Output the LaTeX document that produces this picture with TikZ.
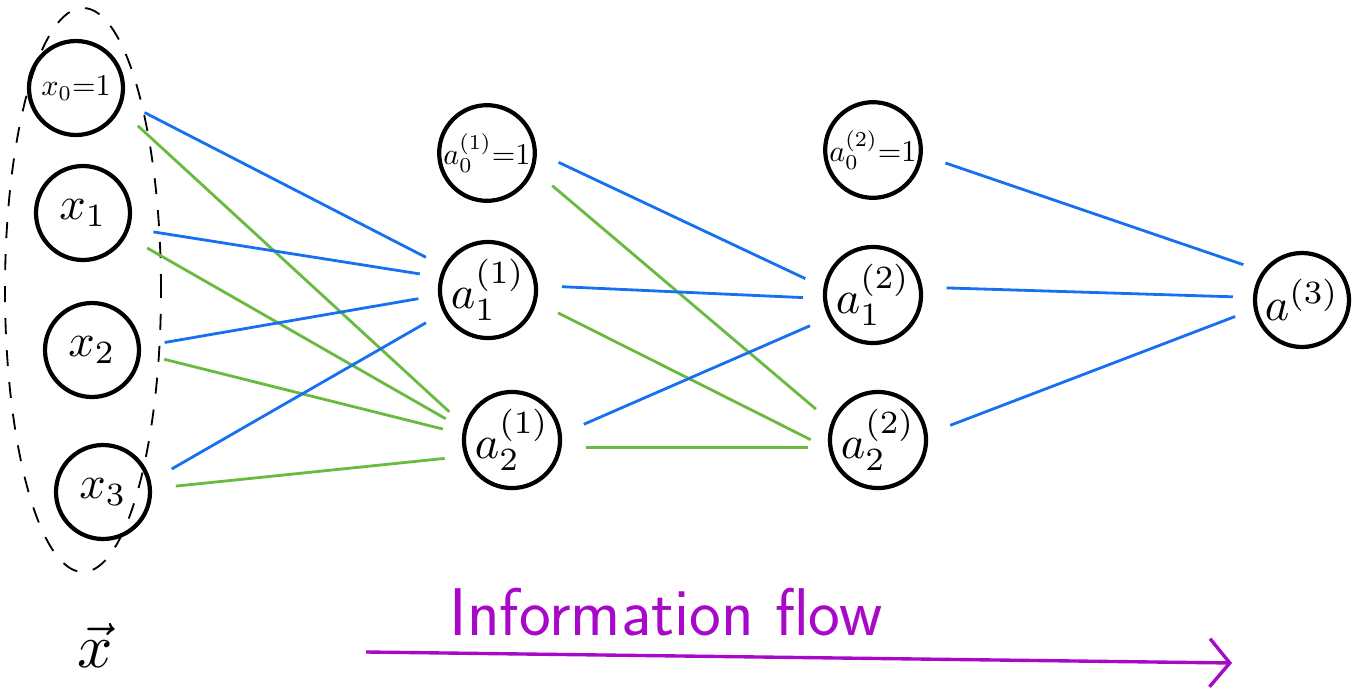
\documentclass[tikz,border=0pt]{standalone}
\usepackage{amsmath}
\usepackage{graphicx}
\usepackage{xcolor}
\usetikzlibrary{arrows.meta}

\definecolor{wblue}{RGB}{22,112,240}
\definecolor{wgreen}{RGB}{104,186,64}
\definecolor{wpurple}{RGB}{168,8,200}

% big and smaller math labels inside the units
\newcommand{\biglbl}[1]{\scalebox{3.3}{$#1$}}
\newcommand{\smlbl}[1]{\scalebox{2.15}{$#1$}}

\begin{document}
\begin{tikzpicture}[
    x=0.25mm,y=-0.25mm,
    nd/.style={circle,draw,line width=3pt,minimum size=23.5mm,inner sep=0pt},
    wb/.style={wblue,line width=2pt,shorten <=6mm,shorten >=5mm},
    wg/.style={wgreen,line width=2pt,shorten <=6mm,shorten >=5mm},
    flow/.style={-{Straight Barb[length=5mm,width=12mm]},wpurple,line width=2.4pt}
]
\useasboundingbox (0,0) rectangle (1352,689);

% input layer
\node[nd] (x0) at (76,88) {\smlbl{x_0{=}1}};
\node[nd] (x1) at (83,213) {\biglbl{x_1}};
\node[nd] (x2) at (92,350) {\biglbl{x_2}};
\node[nd] (x3) at (103,492) {\biglbl{x_3}};
\draw[line width=1.3pt,dash pattern=on 4mm off 4mm] (83,290) ellipse [x radius=19.5mm, y radius=70.5mm];
\node (xvec) at (95,645) {\scalebox{4.4}{$\vec{x}$}};

% hidden layer 1
\node[nd] (a01) at (487,153) {\smlbl{a^{(1)}_0{=}1}};
\node[nd] (a11) at (488,290) {\biglbl{a^{(1)}_1}};
\node[nd] (a21) at (512,440) {\biglbl{a^{(1)}_2}};

% hidden layer 2
\node[nd] (a02) at (873,150) {\smlbl{a^{(2)}_0{=}1}};
\node[nd] (a12) at (873,295) {\biglbl{a^{(2)}_1}};
\node[nd] (a22) at (878,440) {\biglbl{a^{(2)}_2}};

% output
\node[nd] (a3) at (1302,300) {\biglbl{a^{(3)}}};

% weights into layer 1
\draw[wb] (x0.-16) -- (a11.152);
\draw[wg] (x0.-26) -- (a21.163);
\draw[wb] (x1.-18) -- (a11.165);
\draw[wg] (x1.-28) -- (a21.167);
\draw[wb] (x2.4) -- (a11.186);
\draw[wg] (x2.-4) -- (a21.173);
\draw[wb] (x3.13) -- (a11.207);
\draw[wg] (x3.4) -- (a21.199);

% weights into layer 2
\draw[wb] (a01.1) -- (a12.171);
\draw[wg] (a01.-20) -- (a22.159);
\draw[wb] (a11.5) -- (a12.184);
\draw[wg] (a11.-14) -- (a22.190);
\draw[wb] (a21.7) -- (a12.207);
\draw[wg] (a21.-9) -- (a22.189);

% weights into output
\draw[wb] (a02.-6) -- (a3.144);
\draw[wb] (a12.9) -- (a3.177);
\draw[wb] (a22.7) -- (a3.191);

% direction of the forward pass
\node[wpurple,font=\fontsize{48}{56}\sffamily] (flowtxt) at (666,612) {Information flow};
\coordinate (flowstart) at (366,652);
\coordinate (flowend) at (1232,663);
\draw[flow] (flowstart) -- (flowend);
\end{tikzpicture}
\end{document}
